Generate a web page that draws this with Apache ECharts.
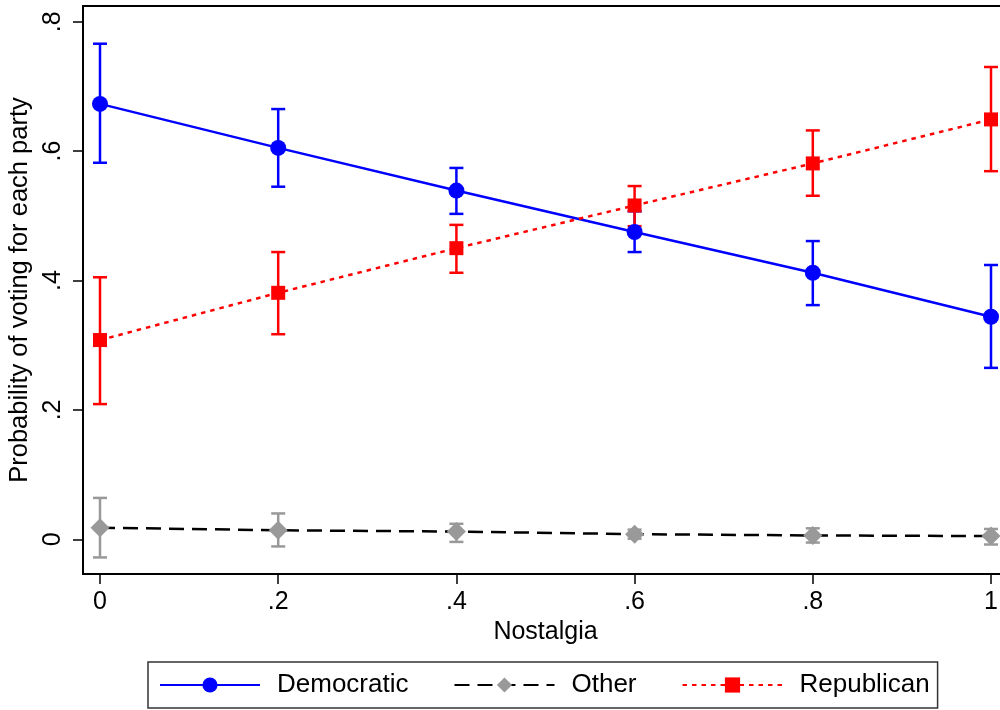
<!DOCTYPE html>
<html>
<head>
<meta charset="utf-8">
<script src="https://cdn.jsdelivr.net/npm/echarts@6/dist/echarts.min.js"></script>
<style>
html,body{margin:0;padding:0;background:#fff;}
#chart{width:1000px;height:710px;}
</style>
</head>
<body>
<div id="chart"></div>
<script>
// ---- data ----
const xVals = [0, 0.2, 0.4, 0.6, 0.8, 1];
const xTickValues = [0, 0.2, 0.4, 0.6, 0.8, 1];
const xTickLabels = ['0', '.2', '.4', '.6', '.8', '1'];
const yTickValues = [0, 0.2, 0.4, 0.6, 0.8];
const yTickLabels = ['0', '.2', '.4', '.6', '.8'];

const demMean = [0.673, 0.605, 0.539, 0.475, 0.412, 0.344];
const demLow  = [0.582, 0.545, 0.503, 0.444, 0.362, 0.265];
const demHigh = [0.766, 0.665, 0.574, 0.507, 0.461, 0.424];

const othMean = [0.018, 0.014, 0.012, 0.008, 0.006, 0.005];
const othLow  = [-0.028, -0.011, -0.004, 0.001, -0.005, -0.008];
const othHigh = [0.064, 0.040, 0.024, 0.015, 0.017, 0.016];

const repMean = [0.308, 0.381, 0.450, 0.516, 0.581, 0.649];
const repLow  = [0.209, 0.317, 0.412, 0.484, 0.531, 0.569];
const repHigh = [0.405, 0.444, 0.486, 0.546, 0.632, 0.730];

const FONT = "'Liberation Sans', Arial, Helvetica, sans-serif";

function pts(mean){ return xVals.map((x,i)=>[x, mean[i]]); }
function ci(lo, hi){ return xVals.map((x,i)=>[x, lo[i], hi[i]]); }
function errRender(color){
  return function(params, api){
    const x = api.value(0), lo = api.value(1), hi = api.value(2);
    const p1 = api.coord([x, lo]), p2 = api.coord([x, hi]);
    const hw = 7;
    const style = {stroke: color, lineWidth: 2.5, fill: null};
    return {type:'group', children:[
      {type:'line', shape:{x1:p1[0], y1:p1[1], x2:p2[0], y2:p2[1]}, style: style},
      {type:'line', shape:{x1:p1[0]-hw, y1:p1[1], x2:p1[0]+hw, y2:p1[1]}, style: style},
      {type:'line', shape:{x1:p2[0]-hw, y1:p2[1], x2:p2[0]+hw, y2:p2[1]}, style: style}
    ]};
  };
}

const chart = echarts.init(document.getElementById('chart'), null, {renderer:'canvas'});
const option = {
  backgroundColor: '#fff',
  animation: false,
  textStyle: {fontFamily: FONT, color: '#000'},
  grid: {left: 83, top: 6, right: -8, bottom: 136, outerBoundsMode: 'none', containLabel: false,
    show: true, borderColor: '#000', borderWidth: 2, backgroundColor: '#fff'},
  xAxis: {
    type: 'value', min: -0.01908, max: 1.01908,
    name: 'Nostalgia', nameLocation: 'middle', nameGap: 46,
    nameTextStyle: {fontSize: 25, color: '#000', fontFamily: FONT},
    axisLine: {show: true, onZero: false, lineStyle: {color: '#000', width: 2}},
    axisTick: {show: true, inside: false, length: 10, customValues: xTickValues, lineStyle: {color: '#000', width: 1.5}},
    axisLabel: {customValues: xTickValues, margin: 16, fontSize: 25, color: '#000', fontFamily: FONT, hideOverlap: false,
      formatter: function(v){ const i = xTickValues.findIndex(t => Math.abs(t - v) < 1e-9); return i >= 0 ? xTickLabels[i] : ''; }},
    splitLine: {show: false}
  },
  yAxis: {
    type: 'value', min: -0.0536, max: 0.8243,
    name: 'Probability of voting for each party', nameLocation: 'middle', nameGap: 50, nameRotate: 90,
    nameTextStyle: {fontSize: 25.5, color: '#000', fontFamily: FONT},
    axisLine: {show: true, onZero: false, lineStyle: {color: '#000', width: 2}},
    axisTick: {show: true, inside: false, length: 10, customValues: yTickValues, lineStyle: {color: '#000', width: 1.5}},
    axisLabel: {customValues: yTickValues, rotate: 90, margin: 17, fontSize: 25, color: '#000', fontFamily: FONT,
      formatter: function(v){ const i = yTickValues.findIndex(t => Math.abs(t - v) < 1e-9); return i >= 0 ? yTickLabels[i] : ''; }},
    splitLine: {show: false}
  },
  legend: {
    data: ['Democratic', 'Other', 'Republican'],
    left: 148, top: 662,
    orient: 'horizontal',
    padding: [10, 8, 10, 11],
    itemWidth: 100, itemHeight: 19, itemGap: 45,
    borderColor: '#333', borderWidth: 1.5, backgroundColor: '#fff',
    textStyle: {fontSize: 26, color: '#000', fontFamily: FONT, padding: [0, 0, 0, 12]}
  },
  series: [
    {type: 'custom', name: 'demCI', data: ci(demLow, demHigh), encode: {x: 0, y: [1, 2]}, renderItem: errRender('#0000ff'), z: 2},
    {type: 'line', name: 'Democratic', data: pts(demMean), symbol: 'circle', symbolSize: 16,
      itemStyle: {color: '#0000ff'}, lineStyle: {color: '#0000ff', width: 2.5, type: 'solid'}, z: 2},
    {type: 'custom', name: 'othCI', data: ci(othLow, othHigh), encode: {x: 0, y: [1, 2]}, renderItem: errRender('#999999'), z: 2},
    {type: 'line', name: 'Other', data: pts(othMean), symbol: 'diamond', symbolSize: 19,
      itemStyle: {color: '#999999'}, lineStyle: {color: '#000000', width: 2.5, type: [15, 8]}, z: 2},
    {type: 'custom', name: 'repCI', data: ci(repLow, repHigh), encode: {x: 0, y: [1, 2]}, renderItem: errRender('#ff0000'), z: 2},
    {type: 'line', name: 'Republican', data: pts(repMean), symbol: 'rect', symbolSize: 14,
      itemStyle: {color: '#ff0000'}, lineStyle: {color: '#ff0000', width: 2.5, type: [4.5, 5]}, z: 2}
  ]
};
chart.setOption(option);
</script>
</body>
</html>
